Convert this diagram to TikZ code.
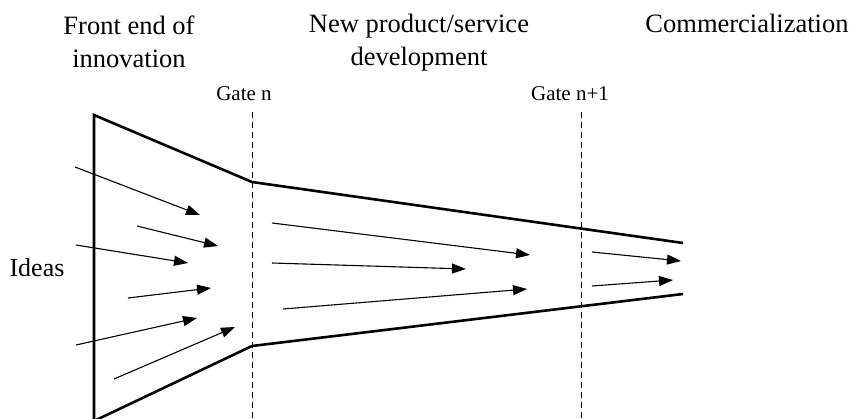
\documentclass[tikz,border=0pt]{standalone}
\usepackage{fontspec}
\setmainfont{Liberation Serif}
\usetikzlibrary{arrows.meta}

\begin{document}
\begin{tikzpicture}[
  x=1pt, y=-1pt,
  >={Triangle[length=14pt,width=10pt]},
  funnel/.style={line width=2.6pt, line join=miter},
  idea/.style={->, line width=1.1pt},
  gate/.style={line width=0.9pt, dash pattern=on 6pt off 4pt},
  phase/.style={font=\fontsize{26.5}{32.5}\selectfont, align=center, inner sep=0pt},
  lab/.style={font=\fontsize{21}{25}\selectfont, inner sep=0pt, anchor=base}
]
\useasboundingbox (0,0) rectangle (851,419);

% funnel outline
\coordinate (tl) at (94,115);
\coordinate (bl) at (94,421);
\coordinate (nt) at (252,182);
\coordinate (nb) at (252,346);
\coordinate (et) at (683,243);
\coordinate (eb) at (683,294);
\draw[funnel] (bl) -- (tl) -- (nt) -- (et);
\draw[funnel] (bl) -- (nb) -- (eb);

% gates
\coordinate (g1t) at (252,112);
\coordinate (g1b) at (252,419);
\coordinate (g2t) at (581,112);
\coordinate (g2b) at (581,419);
\draw[gate] (g1t) -- (g1b);
\draw[gate] (g2t) -- (g2b);

% ideas flowing through
\foreach \sx/\sy/\ex/\ey in {75/167/200/215, 137/226/218/246, 76/245/188/263,
    128/298/211/288, 76/345/197/318, 114/379/235/327,
    272/223/530/255, 272/263/466/269, 283/309/527/289,
    592/252/681/261, 592/286/673/280}
  \draw[idea] (\sx,\sy) -- (\ex,\ey);

% phase titles
\node[phase, anchor=north] (fe) at (129,16) {Front end of\\innovation};
\node[phase, anchor=north] (np) at (419,14) {New product/service\\development};
\node[phase, anchor=base] (co) at (747,33) {Commercialization};

\node[lab] (ga) at (244,101) {Gate n};
\node[lab] (gb) at (570,101) {Gate n+1};
\node[lab, font=\fontsize{26}{30}\selectfont] (id) at (37,277) {Ideas};
\end{tikzpicture}
\end{document}
